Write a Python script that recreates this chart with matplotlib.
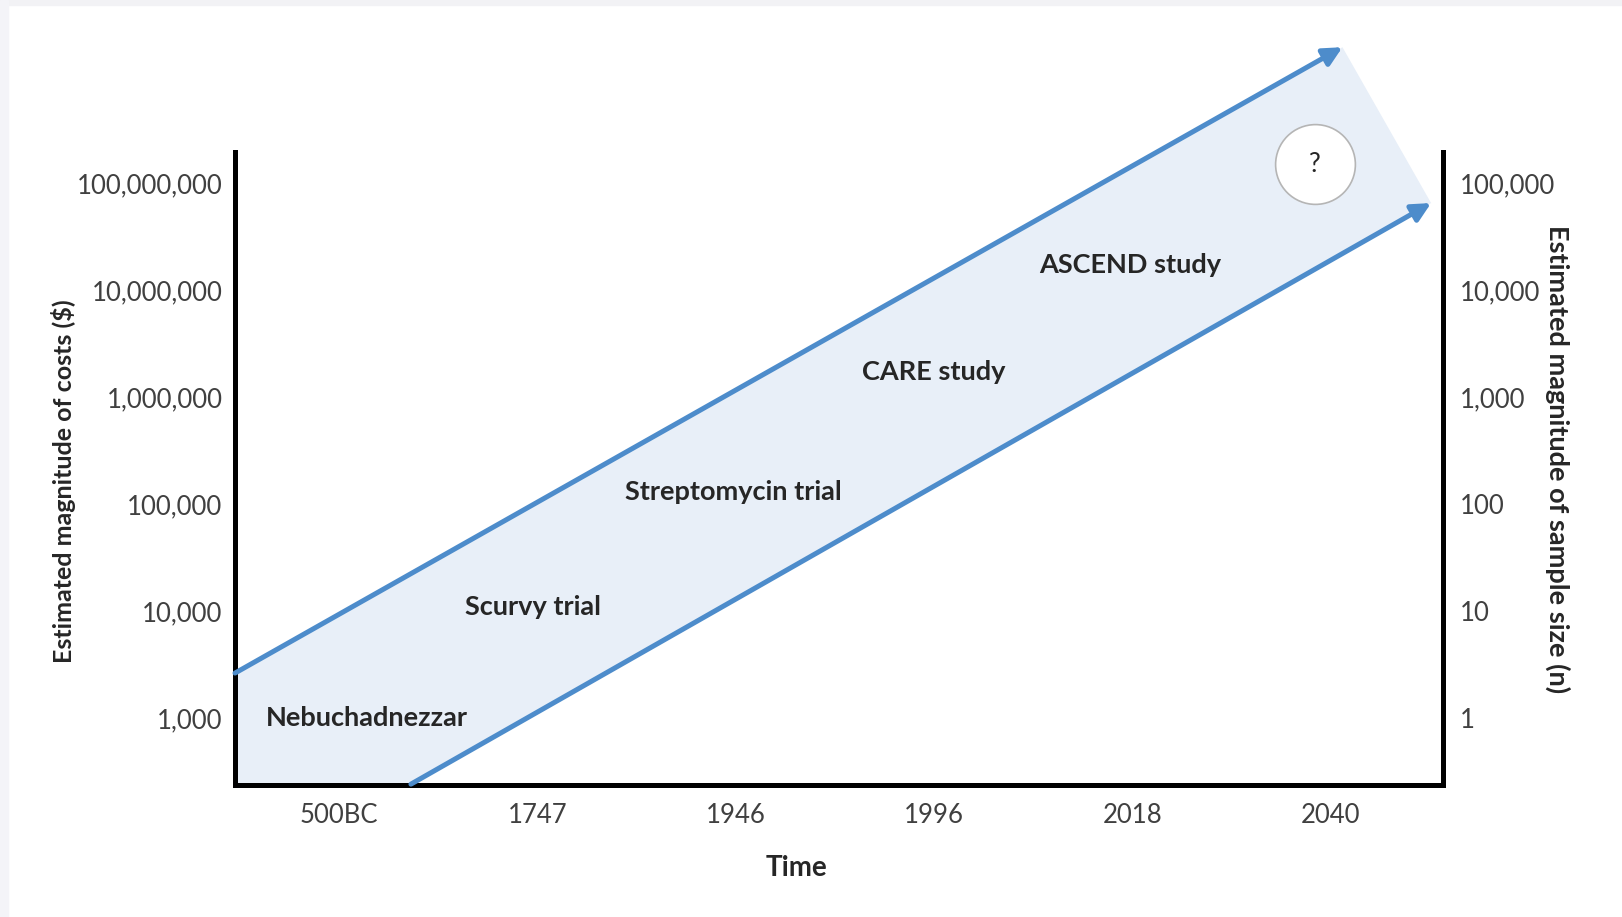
import matplotlib
matplotlib.use("Agg")
import matplotlib.pyplot as plt
from matplotlib.patches import Rectangle

# x positions are event indices (0 = 500BC ... 5 = 2040)
eras = ["500BC", "1747", "1946", "1996", "2018", "2040"]
cost_ticks = [1e3, 1e4, 1e5, 1e6, 1e7, 1e8]
cost_labels = ["1,000", "10,000", "100,000", "1,000,000", "10,000,000", "100,000,000"]
n_ticks = [1, 10, 100, 1e3, 1e4, 1e5]
n_labels = ["1", "10", "100", "1,000", "10,000", "100,000"]

studies = ["Nebuchadnezzar", "Scurvy trial", "Streptomycin trial", "CARE study", "ASCEND study"]
study_x = [0.14, 0.98, 1.99, 3.0, 3.99]
study_cost = [1.0e3, 1.1e4, 1.3e5, 1.7e6, 1.7e7]
unknown_x = 4.92
unknown_cost = 1.5e8

# band edges (start, arrow tip)
upper_x = [-0.524, 5.06]
upper_cost = [2630, 1.86e9]
lower_x = [0.363, 5.507]
lower_cost = [241, 6.5e7]

xlim = (-0.524, 5.567)
ylim = (10 ** 2.374, 10 ** 8.29)

blue = "#4d8ccb"
fill_c = "#e8eff8"
tick_c = "#404040"
text_c = "#262626"

plt.rcParams["font.family"] = ["Lato", "DejaVu Sans"]

fig = plt.figure(figsize=(16.22, 9.17), dpi=100)
fig.patches.append(Rectangle((0, 1 - 5 / 917), 1, 5 / 917, transform=fig.transFigure,
                             color="#f2f2f5", zorder=0))
fig.patches.append(Rectangle((0, 0), 8 / 1622, 1, transform=fig.transFigure,
                             color="#f4f4f8", zorder=0))

ax = fig.add_axes([235 / 1622, 1 - 785 / 917, (1443 - 235) / 1622, (785 - 152) / 917])
ax.set_facecolor("none")
ax.set_yscale("log")
ax.set_xlim(*xlim)
ax.set_ylim(*ylim)

# shaded band between the two arrows
poly_x = [upper_x[0], upper_x[1], lower_x[1], lower_x[0], xlim[0]]
poly_y = [upper_cost[0], upper_cost[1], lower_cost[1], lower_cost[0], ylim[0]]
ax.fill(poly_x, poly_y, color=fill_c, lw=0, clip_on=False, zorder=1)

for xs, ys in [(upper_x, upper_cost), (lower_x, lower_cost)]:
    ax.annotate("", xy=(xs[1], ys[1]), xytext=(xs[0], ys[0]),
                arrowprops=dict(arrowstyle="-|>", color=blue, lw=3.6,
                                mutation_scale=28, shrinkA=0, shrinkB=0),
                annotation_clip=False, zorder=3)

for name, x, c in zip(studies, study_x, study_cost):
    ax.text(x, c, name, ha="center", va="center", fontsize=19.5,
            fontweight="bold", color=text_c, zorder=4)

ax.scatter([unknown_x], [unknown_cost], s=3300, facecolor="white",
           edgecolor="#b5b5b5", lw=1.2, zorder=4, clip_on=False)
ax.text(unknown_x, unknown_cost, "?", ha="center", va="center", fontsize=19,
        color=text_c, zorder=5)

for side in ["left", "bottom", "right"]:
    ax.spines[side].set_linewidth(3.6)
    ax.spines[side].set_color("black")
ax.spines["top"].set_visible(False)

ax.set_xticks(range(len(eras)))
ax.set_xticklabels(eras)
ax.set_yticks(cost_ticks)
ax.set_yticklabels(cost_labels)
ax.minorticks_off()
ax.tick_params(axis="both", length=0, labelsize=18.5, labelcolor=tick_c)
ax.tick_params(axis="x", pad=13)
ax.tick_params(axis="y", pad=9)

ax2 = ax.twinx()
ax2.set_yscale("log")
ax2.set_ylim(ylim[0] / 1000, ylim[1] / 1000)
ax2.set_yticks(n_ticks)
ax2.set_yticklabels(n_labels)
ax2.minorticks_off()
ax2.tick_params(axis="y", length=0, labelsize=18.5, labelcolor=tick_c, pad=12)
for side in ["left", "bottom", "right", "top"]:
    ax2.spines[side].set_visible(False)

fig.text(797 / 1622, 1 - 868 / 917, "Time", ha="center", va="center",
         fontsize=20, fontweight="bold", color=text_c)
fig.text(64 / 1622, 1 - 481 / 917, "Estimated magnitude of costs ($)", rotation=90,
         ha="center", va="center", fontsize=18, fontweight="bold", color=text_c)
fig.text(1558 / 1622, 1 - 459 / 917, "Estimated magnitude of sample size (n)", rotation=-90,
         ha="center", va="center", fontsize=19.5, fontweight="bold", color=text_c)

fig.savefig("out.png", dpi=100, facecolor="white")
